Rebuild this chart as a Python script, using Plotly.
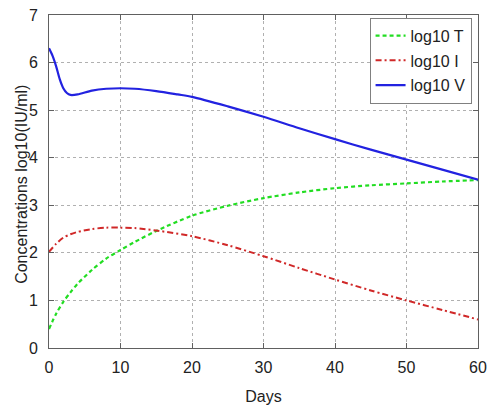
import plotly.graph_objects as go

days_V = [0, 0.5, 1, 1.5, 2, 2.5, 3, 4, 6, 8, 10, 12, 15, 18, 20, 25, 30, 35, 40, 45, 50, 55, 60]
log10_V = [6.30, 6.14, 5.92, 5.65, 5.46, 5.36, 5.32, 5.33, 5.41, 5.45, 5.46, 5.45, 5.40, 5.33, 5.28, 5.08, 4.86, 4.62, 4.39, 4.17, 3.96, 3.75, 3.54]

days = [0, 1, 2, 3, 4, 6, 8, 10, 12, 15, 20, 25, 30, 35, 40, 45, 50, 55, 60]
log10_T = [0.40, 0.72, 0.97, 1.17, 1.35, 1.64, 1.88, 2.06, 2.23, 2.46, 2.78, 2.99, 3.15, 3.27, 3.36, 3.42, 3.46, 3.50, 3.53]
log10_I = [2.02, 2.19, 2.32, 2.39, 2.44, 2.50, 2.53, 2.53, 2.52, 2.47, 2.35, 2.16, 1.93, 1.68, 1.44, 1.21, 1.00, 0.80, 0.60]

x_ticks = [0, 10, 20, 30, 40, 50, 60]
y_ticks = [0, 1, 2, 3, 4, 5, 6, 7]
y_title = "Concentrations log10(IU/ml)"
x_title = "Days"

fig = go.Figure()
fig.add_trace(go.Scatter(x=days, y=log10_T, mode="lines", name="log10 T", legendgroup="T",
                         line=dict(color="#22dd22", width=2.2, dash="4px,3px", shape="spline", smoothing=0.8)))
fig.add_trace(go.Scatter(x=days, y=log10_I, mode="lines", name="log10 I", legendgroup="I",
                         line=dict(color="#d02828", width=2, dash="6px,3px,2px,3px", shape="spline", smoothing=0.8)))
fig.add_trace(go.Scatter(x=days_V, y=log10_V, mode="lines", name="log10 V", legendgroup="V",
                         line=dict(color="#2222e0", width=2.2, shape="spline", smoothing=0.8)))

axis_common = dict(
    showline=True, linecolor="#606060", linewidth=1, mirror="ticks",
    ticks="inside", ticklen=5, tickcolor="#606060",
    showgrid=True, gridcolor="#b0b0b0", griddash="dot", gridwidth=1,
    zeroline=False, tickfont=dict(size=16, color="#222222"), automargin=False,
    ticklabeloverflow="allow",
)

fig.update_xaxes(range=[0, 60], tickvals=x_ticks, ticklabelstandoff=5,
                 title=dict(text=x_title, font=dict(size=16, color="#222222"), standoff=17),
                 **axis_common)
fig.update_yaxes(range=[0, 7], tickvals=y_ticks, ticklabelstandoff=7,
                 **axis_common)

fig.add_annotation(text=y_title, textangle=-90, xref="paper", yref="paper",
                   x=0, y=0.49, xanchor="center", yanchor="middle", xshift=-27,
                   showarrow=False, font=dict(size=16, color="#222222"))

fig.update_layout(
    width=490, height=405,
    margin=dict(l=49, r=12, t=15, b=57),
    paper_bgcolor="white", plot_bgcolor="white",
    font=dict(family="Liberation Sans, Arial, sans-serif", color="#222222"),
    legend=dict(x=0.985, y=0.992, xanchor="right", yanchor="top",
                bgcolor="white", bordercolor="#808080", borderwidth=1,
                font=dict(size=16, color="#222222"), tracegroupgap=1,
                traceorder="grouped", itemwidth=30),
)

fig.write_html("out.html", config={"displayModeBar": False},
               post_script="document.body.style.margin='0';")
